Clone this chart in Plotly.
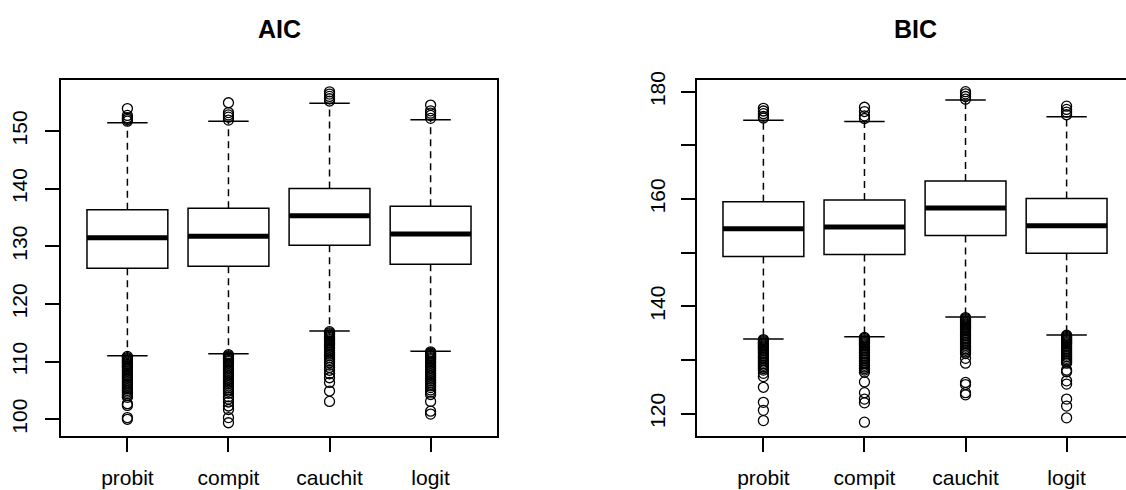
import plotly.graph_objects as go

categories = ["probit", "compit", "cauchit", "logit"]
positions = [1, 2, 3, 4]

# AIC panel
aic_q1 = [126.2, 126.55, 130.2, 126.9]
aic_median = [131.5, 131.75, 135.3, 132.15]
aic_q3 = [136.35, 136.6, 140.05, 136.95]
aic_lw = [111.0, 111.35, 115.3, 111.8]
aic_uw = [151.45, 151.7, 154.8, 151.95]
aic_out_upper = [
    [153.9, 152.7, 152.3, 152.0, 151.7],
    [154.9, 153.2, 152.8, 152.4, 151.9],
    [156.8, 156.4, 156.0, 155.6, 155.2],
    [154.5, 153.5, 153.1, 152.7, 152.2],
]
aic_out_lower = [
    [110.9, 110.7, 110.5, 110.3, 110.1, 109.9, 109.7, 109.5, 109.3, 109.1, 108.9, 108.6,
     108.3, 108.0, 107.7, 107.4, 107.1, 106.8, 106.5, 106.2, 105.9, 105.6, 105.3, 105.0,
     104.7, 104.4, 104.1, 103.8, 102.7, 102.4, 100.3, 100.0],
    [111.2, 111.0, 110.8, 110.6, 110.4, 110.2, 110.0, 109.7, 109.4, 109.1, 108.8, 108.5,
     108.2, 107.9, 107.6, 107.3, 107.0, 106.7, 106.4, 106.1, 105.8, 105.5, 105.2, 104.9,
     104.5, 103.9, 103.5, 103.0, 102.3, 101.7, 100.3, 99.4],
    [115.2, 115.0, 114.8, 114.6, 114.4, 114.2, 114.0, 113.8, 113.6, 113.4, 113.2, 113.0,
     112.8, 112.5, 112.2, 111.9, 111.6, 111.3, 111.0, 110.7, 110.4, 110.1, 109.8, 109.4,
     109.0, 108.5, 107.9, 107.2, 106.4, 104.9, 103.1],
    [111.7, 111.5, 111.3, 111.1, 110.9, 110.7, 110.5, 110.3, 110.0, 109.7, 109.4, 109.1,
     108.8, 108.5, 108.2, 107.9, 107.6, 107.3, 107.0, 106.7, 106.4, 106.1, 105.8, 105.5,
     105.1, 104.7, 104.3, 103.1, 101.4, 100.9],
]
aic_ticks = [100, 110, 120, 130, 140, 150]
aic_ticktext = ["100", "110", "120", "130", "140", "150"]
aic_range = [97.1, 158.85]

# BIC panel
bic_q1 = [149.3, 149.65, 153.2, 149.9]
bic_median = [154.45, 154.8, 158.3, 155.0]
bic_q3 = [159.5, 159.8, 163.35, 160.1]
bic_lw = [133.9, 134.3, 138.0, 134.65]
bic_uw = [174.7, 174.45, 178.45, 175.35]
bic_out_upper = [
    [176.9, 176.4, 175.9, 175.4, 175.1],
    [177.1, 176.3, 175.5, 175.0],
    [180.0, 179.6, 179.1, 178.6],
    [177.3, 176.7, 176.2, 175.7],
]
bic_out_lower = [
    [133.8, 133.6, 133.4, 133.2, 133.0, 132.8, 132.6, 132.4, 132.2, 132.0, 131.7, 131.4,
     131.1, 130.8, 130.5, 130.2, 129.9, 129.6, 129.3, 129.0, 128.7, 128.4, 128.1, 127.5,
     126.9, 124.9, 122.1, 120.6, 118.7],
    [134.2, 134.0, 133.8, 133.6, 133.4, 133.2, 133.0, 132.8, 132.6, 132.3, 132.0, 131.7,
     131.4, 131.1, 130.8, 130.5, 130.2, 129.9, 129.6, 129.3, 129.0, 128.7, 128.4, 128.1,
     127.7, 125.9, 123.9, 122.7, 122.0, 118.4],
    [137.9, 137.7, 137.5, 137.3, 137.1, 136.9, 136.7, 136.5, 136.3, 136.1, 135.9, 135.7,
     135.4, 135.1, 134.8, 134.5, 134.2, 133.9, 133.6, 133.3, 133.0, 132.7, 132.4, 132.1,
     131.8, 131.5, 131.2, 130.3, 129.4, 125.8, 125.4, 123.9, 123.5],
    [134.6, 134.4, 134.2, 134.0, 133.8, 133.6, 133.4, 133.2, 133.0, 132.7, 132.4, 132.1,
     131.8, 131.5, 131.2, 130.9, 130.6, 130.3, 130.0, 129.7, 129.4, 128.1, 127.8, 126.1,
     125.5, 122.7, 121.4, 119.2],
]
bic_ticks = [120, 130, 140, 150, 160, 170, 180]
bic_ticktext = ["120", "", "140", "", "160", "", "180"]
bic_range = [115.82, 182.18]

titles = ["AIC", "BIC"]

# ---- layout constants (pixels) ----
W, H = 1126, 490
TOP, BOTTOM = 80, 54
L1, R1 = 60.7, 497.3
L2 = 696.7
PX_PER_UNIT = (R1 - L1) / 4.32
X_LO = 0.34
BOX_W = 0.8
STAPLE_W = 0.4
LW = 1.5
FONT = "Liberation Sans, Arial, sans-serif"

fig = go.Figure()


def add_panel(xa, ya, q1, med, q3, lw, uw, out_up, out_lo):
    fig.add_trace(go.Box(
        x=positions, q1=q1, median=med, q3=q3, lowerfence=q1, upperfence=q3,
        width=BOX_W, whiskerwidth=0, fillcolor="white",
        line=dict(color="black", width=LW), boxpoints=False,
        xaxis=xa, yaxis=ya, showlegend=False, hoverinfo="skip",
    ))
    for i, p in enumerate(positions):
        # whiskers (dashed)
        fig.add_trace(go.Scatter(
            x=[p, p, None, p, p], y=[q3[i], uw[i], None, q1[i], lw[i]],
            mode="lines", line=dict(color="black", width=LW, dash="7px,5px"),
            xaxis=xa, yaxis=ya, showlegend=False, hoverinfo="skip"))
        # staples
        fig.add_trace(go.Scatter(
            x=[p - STAPLE_W / 2, p + STAPLE_W / 2, None, p - STAPLE_W / 2, p + STAPLE_W / 2],
            y=[uw[i], uw[i], None, lw[i], lw[i]],
            mode="lines", line=dict(color="black", width=LW),
            xaxis=xa, yaxis=ya, showlegend=False, hoverinfo="skip"))
        # median
        fig.add_trace(go.Scatter(
            x=[p - BOX_W / 2, p + BOX_W / 2], y=[med[i], med[i]],
            mode="lines", line=dict(color="black", width=5),
            xaxis=xa, yaxis=ya, showlegend=False, hoverinfo="skip"))
        # outliers
        vals = out_up[i] + out_lo[i]
        fig.add_trace(go.Scatter(
            x=[p] * len(vals), y=vals, mode="markers",
            marker=dict(symbol="circle-open", size=10, color="black", line=dict(width=1.3)),
            xaxis=xa, yaxis=ya, showlegend=False, hoverinfo="skip"))


add_panel("x", "y", aic_q1, aic_median, aic_q3, aic_lw, aic_uw, aic_out_upper, aic_out_lower)
add_panel("x2", "y2", bic_q1, bic_median, bic_q3, bic_lw, bic_uw, bic_out_upper, bic_out_lower)

x2_hi = X_LO + (W - L2) / PX_PER_UNIT

axis_common = dict(showgrid=False, zeroline=False, showline=True, linecolor="black",
                   linewidth=LW, ticks="outside", ticklen=14, tickwidth=LW, tickcolor="black",
                   tickfont=dict(family=FONT, size=21, color="black"))

fig.update_layout(
    width=W, height=H,
    margin=dict(l=0, r=0, t=TOP, b=BOTTOM),
    paper_bgcolor="white", plot_bgcolor="white",
    xaxis=dict(domain=[L1 / W, R1 / W], range=[X_LO, X_LO + 4.32], tickvals=positions,
               ticktext=categories, mirror=True, anchor="y", ticklabelstandoff=8, **axis_common),
    yaxis=dict(domain=[0, 1], range=aic_range, tickvals=aic_ticks, ticktext=aic_ticktext,
               tickangle=-90, mirror=True, anchor="x", ticklabelstandoff=10, **axis_common),
    xaxis2=dict(domain=[L2 / W, 1.0], range=[X_LO, x2_hi], tickvals=positions,
                ticktext=categories, mirror=True, anchor="y2", ticklabelstandoff=8, **axis_common),
    yaxis2=dict(domain=[0, 1], range=bic_range, tickvals=bic_ticks, ticktext=bic_ticktext,
                tickangle=-90, mirror=False, anchor="x2", ticklabelstandoff=8, **axis_common),
)

plot_h = H - TOP - BOTTOM
title_y = (H - BOTTOM - 29) / plot_h
centers = [(L1 + R1) / 2 / W, (L2 + L2 + (R1 - L1)) / 2 / W]
for t, cx in zip(titles, centers):
    fig.add_annotation(text="<b>%s</b>" % t, x=cx, y=title_y, xref="paper", yref="paper",
                       xanchor="center", yanchor="middle", showarrow=False,
                       font=dict(family=FONT, size=25, color="black"))

fig.write_html("out.html", config={"displayModeBar": False},
               post_script="document.body.style.margin='0';document.body.style.overflow='hidden';")
